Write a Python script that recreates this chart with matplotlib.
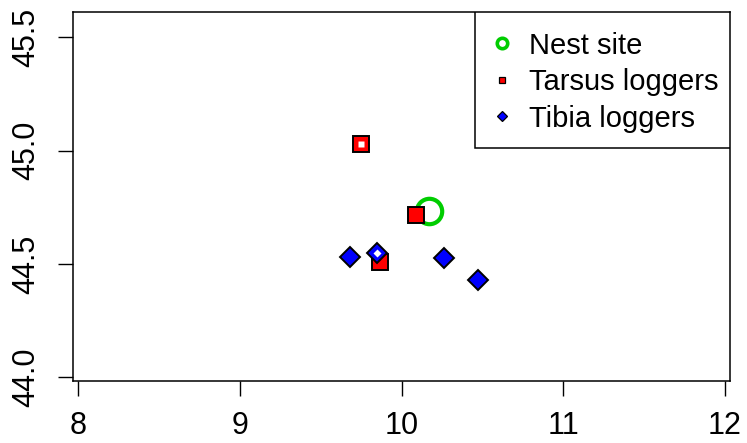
import matplotlib
matplotlib.use('Agg')
import matplotlib.pyplot as plt
from matplotlib.lines import Line2D
from matplotlib.patches import Rectangle

plt.rcParams['font.family'] = ['Liberation Sans', 'DejaVu Sans']

# nest site
nest_x = [10.169]
nest_y = [44.735]

# tarsus loggers (last one is drawn hollow)
tarsus_x = [10.090, 9.868, 9.746]
tarsus_y = [44.716, 44.507, 45.029]
tarsus_hollow = [False, False, True]

# tibia loggers
tibia_x = [9.680, 10.262, 10.474, 9.845]
tibia_y = [44.529, 44.528, 44.428, 44.547]
tibia_hollow = [False, False, False, True]

x_ticks = [8, 9, 10, 11, 12]
y_ticks = [44.0, 44.5, 45.0, 45.5]
y_labels = ['44.0', '44.5', '45.0', '45.5']

legend_labels = ['Nest site', 'Tarsus loggers', 'Tibia loggers']

fig = plt.figure(figsize=(7.47, 4.43), dpi=100)
ax = fig.add_axes([0.0981, 0.1399, 0.8785, 0.8341])

ax.plot(nest_x, nest_y, 'o', ms=18.3, mfc='none', mec='#00CD00', mew=3.0, zorder=3)
ax.plot(tarsus_x, tarsus_y, 's', ms=11, mfc='red', mec='black', mew=1.4, zorder=4)
hx = [x for x, h in zip(tarsus_x, tarsus_hollow) if h]
hy = [y for y, h in zip(tarsus_y, tarsus_hollow) if h]
ax.plot(hx, hy, 's', ms=5, mfc='white', mec='none', zorder=4.5)
ax.plot(tibia_x, tibia_y, 'D', ms=10.5, mfc='blue', mec='black', mew=1.4, zorder=5)
hx = [x for x, h in zip(tibia_x, tibia_hollow) if h]
hy = [y for y, h in zip(tibia_y, tibia_hollow) if h]
ax.plot(hx, hy, 'D', ms=4.5, mfc='white', mec='none', zorder=5.5)

ax.set_xlim(7.969, 12.028)
ax.set_ylim(43.984, 45.614)
ax.set_xticks(x_ticks)
ax.set_xticklabels([str(t) for t in x_ticks])
ax.set_yticks(y_ticks)
ax.set_yticklabels(y_labels, rotation=90, va='center')
ax.tick_params(axis='both', length=10.8, width=1.0, labelsize=22, pad=11)
ax.tick_params(axis='y', pad=12)
for s in ax.spines.values():
    s.set_linewidth(1.1)

# legend box like R's legend(): frame drawn separately
box_x0 = 0.612
box_y0 = 0.6306
ax.add_patch(Rectangle((box_x0, box_y0), 1 - box_x0, 1 - box_y0, transform=ax.transAxes,
                       facecolor='white', edgecolor='black', lw=1.1, zorder=10))

handles = [
    Line2D([], [], ls='none', marker='o', ms=7.5, mfc='none', mec='#00CD00', mew=2.6),
    Line2D([], [], ls='none', marker='s', ms=5, mfc='red', mec='black', mew=0.9),
    Line2D([], [], ls='none', marker='D', ms=4.8, mfc='blue', mec='black', mew=0.9),
]
leg = ax.legend(handles, legend_labels, loc='upper left', bbox_to_anchor=(box_x0, 0.981),
                fontsize=21, frameon=False, borderaxespad=0, handlelength=0.93,
                handletextpad=0.47, labelspacing=0.29, borderpad=0.45)
leg.set_zorder(11)

plt.savefig('out.png', dpi=100)
